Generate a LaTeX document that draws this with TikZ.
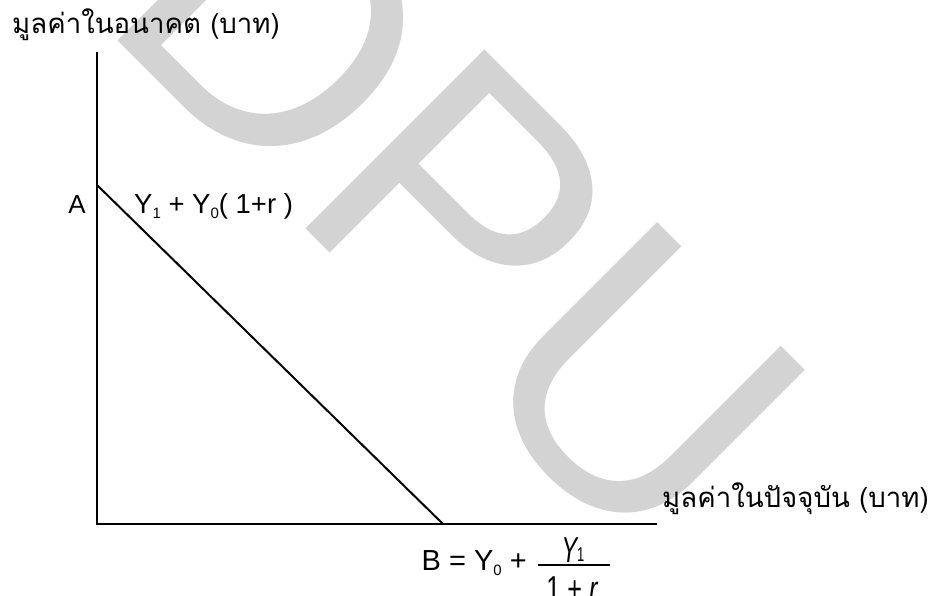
\documentclass[tikz,border=0pt]{standalone}
\usepackage{fontspec}
\usepackage{graphicx}
\setmainfont{Liberation Sans}
\newfontfamily\thaifont[Script=Thai]{Loma}
\definecolor{wmgray}{RGB}{211,211,211}
\newcommand\sbs[1]{\raisebox{-5pt}{\fontsize{15}{15}\selectfont #1}}
\begin{document}
\begin{tikzpicture}[x=1pt,y=-1pt,
  axis/.style={line width=2pt},
  wmtext/.style={inner sep=0pt, text=wmgray, font=\fontsize{368}{368}\selectfont},
  lbl/.style={inner sep=0pt, font=\fontsize{26}{26}\selectfont},
  albl/.style={inner sep=0pt, font=\fontsize{27.5}{27.5}\selectfont},
  blbl/.style={inner sep=0pt, font=\fontsize{29}{29}\selectfont},
  fraclbl/.style={inner sep=0pt, font=\fontsize{36}{36}\selectfont},
  thai/.style={inner sep=0pt, font=\thaifont\fontsize{27.6}{27.6}\selectfont}]
\useasboundingbox (0,0) rectangle (932,595);
\begin{scope}
\clip (0,0) rectangle (932,595);
\node[wmtext, anchor=base west, rotate=-45] (wm) at (96.7,19.7) {DPU};
\end{scope}
% axes
\coordinate (O) at (97,524);
\coordinate (Ytop) at (97,52);
\coordinate (Xend) at (657,524);
\coordinate (A) at (97,185);
\coordinate (B) at (443,524);
\draw[axis] (Ytop) -- (O) -- (Xend);
\draw[axis] (A) -- (B);
% labels
\node[thai, anchor=base west] (ylab) at (12,33) {มูลค่าในอนาคต (บาท)};
\node[thai, anchor=base west] (xlab) at (662,507) {มูลค่าในปัจจุบัน (บาท)};
\node[lbl, anchor=base] (Alab) at (77,213) {A};
\node[albl, anchor=base west] (Aeq) at (134,213) {Y\sbs{1} + Y\sbs{0}( 1+r )};
\node[blbl, anchor=base west] (Blab) at (421.5,570) {B = Y\sbs{0} +};
\node[fraclbl, anchor=base] (num) at (573,562) {\scalebox{0.65}[1]{\itshape Y\raisebox{1pt}{\fontsize{20}{20}\selectfont\upshape 1}}};
\coordinate (fracL) at (538,565);
\coordinate (fracR) at (610,565);
\draw[line width=2pt] (fracL) -- (fracR);
\node[fraclbl, anchor=base] (den) at (572,601) {\scalebox{0.7}[1]{1 + \itshape r}};
\end{tikzpicture}
\end{document}
